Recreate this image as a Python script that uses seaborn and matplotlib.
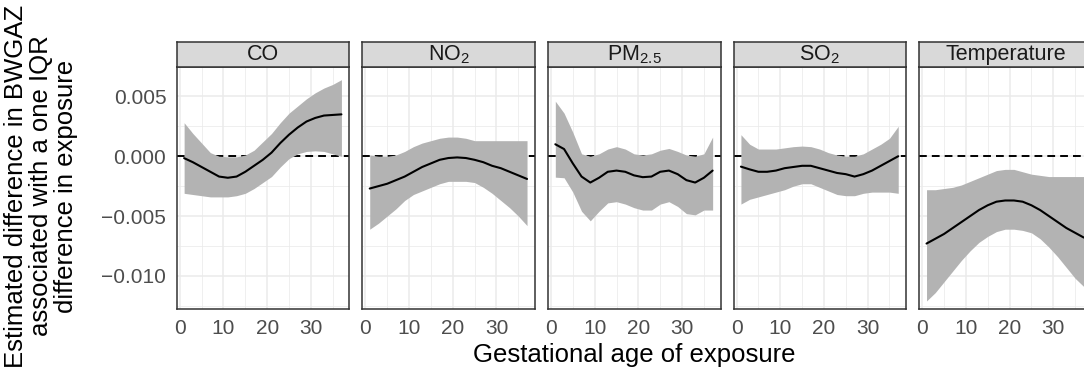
import numpy as np
import pandas as pd
import matplotlib
matplotlib.use("Agg")
import matplotlib.pyplot as plt
import seaborn as sns

# ---------------- data ----------------
weeks = [1, 3, 5, 7, 9, 11, 13, 15, 17, 19, 21, 23, 25, 27, 29, 31, 33, 35, 37]

exposures = ["CO", "NO2", "PM2.5", "SO2", "Temperature"]
strip_labels = ["CO", r"$\mathregular{NO_2}$", r"$\mathregular{PM_{2.5}}$",
                r"$\mathregular{SO_2}$", "Temperature"]

co_est = [-0.00016, -0.0005, -0.0009, -0.0013, -0.0017, -0.0018, -0.0017, -0.0013, -0.0008, -0.0003,
          0.0003, 0.0011, 0.0018, 0.0024, 0.0029, 0.0032, 0.0034, 0.00345, 0.0035]
co_upper = [0.0028, 0.0019, 0.0011, 0.0003, 0.0, -0.00005, -0.00005, 0.0001, 0.0005, 0.0012,
            0.0019, 0.0028, 0.0036, 0.0042, 0.0048, 0.0053, 0.0057, 0.0060, 0.0064]
co_lower = [-0.0031, -0.0032, -0.0033, -0.0034, -0.0034, -0.0034, -0.0033, -0.0031, -0.0027, -0.0022,
            -0.0017, -0.0009, -0.0002, 0.0002, 0.0004, 0.00045, 0.0004, 0.0002, 0.0]

no2_est = [-0.0027, -0.0025, -0.0023, -0.0020, -0.0017, -0.0013, -0.0009, -0.0006, -0.0003, -0.00015,
           -0.0001, -0.00015, -0.0003, -0.0005, -0.0008, -0.0010, -0.0013, -0.0016, -0.0019]
no2_upper = [0.0001, 0.0, 0.0, 0.0001, 0.0004, 0.0008, 0.0011, 0.0013, 0.0015, 0.0016,
             0.0016, 0.0015, 0.0013, 0.0013, 0.0013, 0.0013, 0.0013, 0.0013, 0.0013]
no2_lower = [-0.0061, -0.0056, -0.0050, -0.0044, -0.0037, -0.0032, -0.0029, -0.0026, -0.0023, -0.0021,
             -0.0021, -0.0021, -0.0022, -0.0026, -0.0031, -0.0037, -0.0043, -0.0050, -0.0058]

pm25_est = [0.0010, 0.0006, -0.0006, -0.0017, -0.0022, -0.0018, -0.0013, -0.0012, -0.0013, -0.0016,
            -0.00175, -0.0017, -0.0013, -0.0012, -0.0015, -0.0020, -0.0022, -0.0018, -0.0012]
pm25_upper = [0.0046, 0.0036, 0.0020, 0.0002, 0.0, 0.0002, 0.0006, 0.0008, 0.0006, 0.0002,
              0.0001, 0.0002, 0.0005, 0.00065, 0.0004, 0.0001, 0.0, 0.0002, 0.0016]
pm25_lower = [-0.00175, -0.0018, -0.0030, -0.0046, -0.0054, -0.0046, -0.0039, -0.0038, -0.0040, -0.0043,
              -0.0045, -0.0045, -0.0040, -0.0038, -0.0042, -0.0048, -0.0049, -0.0045, -0.0045]

so2_est = [-0.00087, -0.0011, -0.0013, -0.0013, -0.0012, -0.0010, -0.0009, -0.0008, -0.0008, -0.0010,
           -0.0012, -0.0014, -0.0015, -0.0017, -0.0015, -0.0012, -0.0008, -0.0004, 0.0]
so2_upper = [0.0018, 0.0010, 0.0006, 0.0006, 0.0006, 0.0007, 0.0008, 0.00085, 0.0008, 0.0006,
             0.0003, 0.0001, 0.0, 0.0, 0.0002, 0.0006, 0.0010, 0.0015, 0.0025]
so2_lower = [-0.0040, -0.0036, -0.0034, -0.0032, -0.0030, -0.0028, -0.0025, -0.0023, -0.0023, -0.0026,
             -0.0029, -0.0032, -0.0033, -0.0033, -0.0031, -0.0030, -0.0030, -0.0030, -0.0031]

temp_est = [-0.0073, -0.0069, -0.0065, -0.0060, -0.0055, -0.0050, -0.0045, -0.0041, -0.0038, -0.0037,
            -0.0037, -0.0038, -0.0041, -0.0045, -0.0050, -0.0055, -0.0060, -0.0064, -0.0068]
temp_upper = [-0.0028, -0.0028, -0.0027, -0.0026, -0.0024, -0.0021, -0.0018, -0.0015, -0.0012, -0.0011,
              -0.0011, -0.0013, -0.0015, -0.0016, -0.0017, -0.0017, -0.0017, -0.0017, -0.0017]
temp_lower = [-0.0121, -0.0114, -0.0105, -0.0096, -0.0087, -0.0079, -0.0072, -0.0067, -0.0063, -0.0061,
              -0.0061, -0.0062, -0.0064, -0.0069, -0.0076, -0.0084, -0.0093, -0.0102, -0.0109]

x_ticks = [0, 10, 20, 30]
x_tick_labels = ["0", "10", "20", "30"]
y_ticks = [0.005, 0.0, -0.005, -0.010]
y_tick_labels = ["0.005", "0.000", "\u22120.005", "\u22120.010"]

series = {
    "CO": (co_est, co_lower, co_upper),
    "NO2": (no2_est, no2_lower, no2_upper),
    "PM2.5": (pm25_est, pm25_lower, pm25_upper),
    "SO2": (so2_est, so2_lower, so2_upper),
    "Temperature": (temp_est, temp_lower, temp_upper),
}
frames = []
for name in exposures:
    est, lo, up = series[name]
    frames.append(pd.DataFrame({"exposure": name, "week": weeks,
                                "est": est, "lower": lo, "upper": up}))
df = pd.concat(frames, ignore_index=True)

# ---------------- style ----------------
sns.set_style("white")
plt.rcParams["font.family"] = ["Liberation Sans", "DejaVu Sans"]
plt.rcParams["mathtext.fontset"] = "custom"
plt.rcParams["mathtext.rm"] = "Liberation Sans"
plt.rcParams["mathtext.it"] = "Liberation Sans:italic"
plt.rcParams["axes.unicode_minus"] = True

W, H = 1084, 381
fig = plt.figure(figsize=(W / 100, H / 100), dpi=100)
fig.patch.set_facecolor("white")

panel_w = 172.6
panel_top, panel_bot, strip_top = 66.5, 309.0, 42.0
border = "#333333"

def fx(px):
    return px / W

def fy(py):
    return (H - py) / H

for i, name in enumerate(exposures):
    L = 176.7 + 185.6 * i
    ax = fig.add_axes([fx(L), fy(panel_bot), panel_w / W, (panel_bot - panel_top) / H])
    sub = df[df["exposure"] == name]
    ax.axhline(0, color="black", lw=1.4, ls=(0, (4, 2.6)), zorder=1)
    ax.fill_between(sub["week"], sub["lower"], sub["upper"], color="#B3B3B3", lw=0, zorder=2)
    sns.lineplot(data=sub, x="week", y="est", ax=ax, color="black", lw=1.5,
                 errorbar=None, legend=False, zorder=3)
    ax.set_xlim(-0.7, 38.8)
    ax.set_ylim(-0.01277, 0.00734)
    ax.set_xticks(x_ticks)
    ax.set_xticklabels(x_tick_labels)
    ax.set_xticks([5, 15, 25, 35], minor=True)
    ax.set_yticks(y_ticks)
    ax.set_yticks([0.0075, 0.0025, -0.0025, -0.0075, -0.0125], minor=True)
    ax.set_axisbelow(True)
    ax.grid(which="major", color="#EBEBEB", lw=1.1)
    ax.grid(which="minor", color="#EBEBEB", lw=0.55)
    ax.set_xlabel("")
    ax.set_ylabel("")
    for s in ax.spines.values():
        s.set_color(border)
        s.set_linewidth(1.1)
    ax.tick_params(axis="x", which="major", length=4, width=1.0, color=border,
                   labelcolor="#4D4D4D", labelsize=15, pad=3.5)
    ax.tick_params(which="minor", length=0)
    if i == 0:
        ax.set_yticklabels(y_tick_labels)
        ax.tick_params(axis="y", which="major", length=4, width=1.0, color=border,
                       labelcolor="#4D4D4D", labelsize=15, pad=3.5)
    else:
        ax.tick_params(axis="y", which="major", length=0, labelleft=False)

    sax = fig.add_axes([fx(L), fy(panel_top), panel_w / W, (panel_top - strip_top) / H])
    sax.set_facecolor("#D9D9D9")
    sax.set_xticks([])
    sax.set_yticks([])
    for s in sax.spines.values():
        s.set_color(border)
        s.set_linewidth(1.1)
    sax.text(0.5, 0.47, strip_labels[i], ha="center", va="center", fontsize=15.5,
             color="#1A1A1A", transform=sax.transAxes)

fig.text(fx(634.5), fy(355), "Gestational age of exposure", ha="center", va="center",
         fontsize=18.5, color="black")
fig.text(fx(41), fy(186), "Estimated difference in BWGAZ\nassociated with a one IQR\ndifference in exposure",
         ha="center", va="center", rotation=90, fontsize=18.5, color="black",
         multialignment="center", linespacing=1.05)

fig.savefig("out.png", dpi=100)
